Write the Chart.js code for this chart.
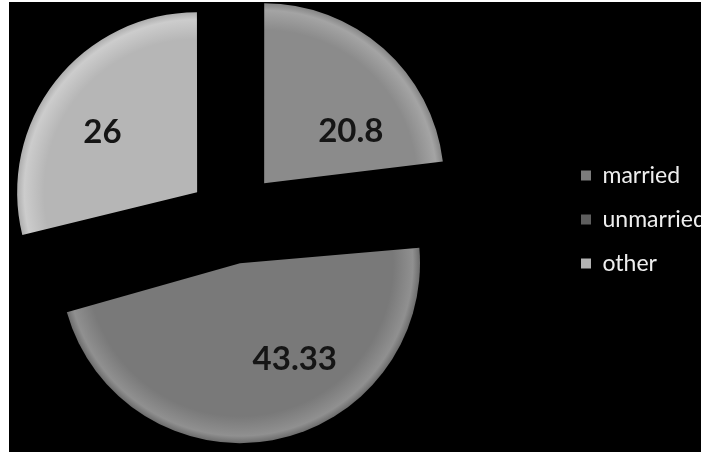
<!DOCTYPE html>
<html>
<head>
<meta charset="utf-8">
<title>Marital status</title>
<script src="https://cdn.jsdelivr.net/npm/chart.js@4.4.1/dist/chart.umd.min.js"></script>
<style>
  html, body { margin: 0; padding: 0; background: #fff; overflow: hidden; }
  #frame { position: absolute; left: 9px; top: 2px; width: 692px; height: 450px; background: #000; overflow: hidden; }
  #holder { position: absolute; left: -105px; top: 0; width: 806px; height: 450px; }
</style>
</head>
<body>
<div id="frame"><div id="holder"><canvas id="pieChart"></canvas></div></div>
<script>
// chart data
const categories = ["married", "unmarried", "other"];
const values = [20.8, 43.33, 26];
const valueLabels = ["20.8", "43.33", "26"];

// look
const sliceColors = ["#8b8b8b", "#797979", "#b6b6b6"];
const rimColors = ["#a4a4a4", "#909090", "#cccccc"];
const edgeColors = ["#858585", "#6c6c6c", "#adadad"];
const legendColors = ["#7c7c7c", "#5e5e5e", "#b3b3b3"];
const pieRadius = 180;
const explode = [48.5, 44.4, 44.3]; // how far each slice is pulled out, px

// chart.js moves a slice by offset / 4
const sliceOffsets = explode.map(d => 4 * d);

function sliceFill(c) {
    const i = c.dataIndex;
    const area = c.chart.chartArea;
    if (!area || i === undefined) return sliceColors[i || 0];
    const cx = (area.left + area.right) / 2;
    const cy = (area.top + area.bottom) / 2;
    const g = c.chart.ctx.createRadialGradient(cx, cy, 0, cx, cy, pieRadius);
    g.addColorStop(0, sliceColors[i]);
    g.addColorStop(0.85, sliceColors[i]);
    g.addColorStop(0.96, rimColors[i]);
    g.addColorStop(1, edgeColors[i]);
    return g;
}

// the offset also grows wide slices, take it back so they all keep one radius
const evenRadius = {
    id: 'evenRadius',
    beforeDatasetsDraw(chart) {
        const meta = chart.getDatasetMeta(0);
        meta.data.forEach(arc => {
            const fix = 1 - Math.sin(Math.min(Math.PI, arc.circumference));
            arc.outerRadius = meta.controller.outerRadius - (arc.options.offset / 4) * fix;
        });
    }
};

const sliceLabels = {
    id: 'sliceLabels',
    afterDatasetsDraw(chart, args, opts) {
        const ctx = chart.ctx;
        const meta = chart.getDatasetMeta(0);
        ctx.save();
        ctx.font = opts.font;
        ctx.fillStyle = opts.color;
        ctx.textAlign = 'center';
        ctx.textBaseline = 'middle';
        meta.data.forEach((arc, i) => {
            const mid = (arc.startAngle + arc.endAngle) / 2;
            const ax = arc.x + Math.cos(mid) * explode[i];
            const ay = arc.y + Math.sin(mid) * explode[i];
            const p = opts.placement[i];
            const a = mid + p.turn * Math.PI / 180;
            ctx.fillText(valueLabels[i], ax + Math.cos(a) * p.dist, ay + Math.sin(a) * p.dist);
        });
        ctx.restore();
    }
};

const fixedLegend = {
    id: 'fixedLegend',
    beforeInit(chart) {
        const fit = chart.legend.fit;
        chart.legend.fit = function() {
            fit.call(this);
            this.width = 150;
        };
    }
};

const ctx = document.getElementById('pieChart').getContext('2d');

new Chart(ctx, {
    type: 'pie',
    data: {
        labels: categories,
        datasets: [{
            data: values,
            backgroundColor: sliceFill,
            borderWidth: 0,
            offset: sliceOffsets,
            radius: pieRadius
        }]
    },
    options: {
        responsive: true,
        maintainAspectRatio: false,
        animation: false,
        events: [],
        layout: { padding: { left: 0, top: 0, right: 0, bottom: 15 } },
        plugins: {
            tooltip: { enabled: false },
            legend: {
                position: 'right',
                labels: {
                    boxWidth: 10,
                    boxHeight: 10,
                    padding: 21,
                    color: '#eeeeee',
                    font: { family: 'Lato', size: 23 },
                    generateLabels: function(chart) {
                        return chart.data.labels.map((label, i) => ({
                            text: label,
                            fillStyle: legendColors[i],
                            strokeStyle: legendColors[i],
                            fontColor: '#eeeeee',
                            lineWidth: 0,
                            hidden: false,
                            index: i
                        }));
                    }
                }
            },
            sliceLabels: {
                font: 'bold 33px Lato',
                color: '#151515',
                placement: [
                    { turn: 17.6, dist: 101 },
                    { turn: -19.2, dist: 111 },
                    { turn: -5.8, dist: 112 }
                ]
            }
        }
    },
    plugins: [evenRadius, sliceLabels, fixedLegend]
});
</script>
</body>
</html>
